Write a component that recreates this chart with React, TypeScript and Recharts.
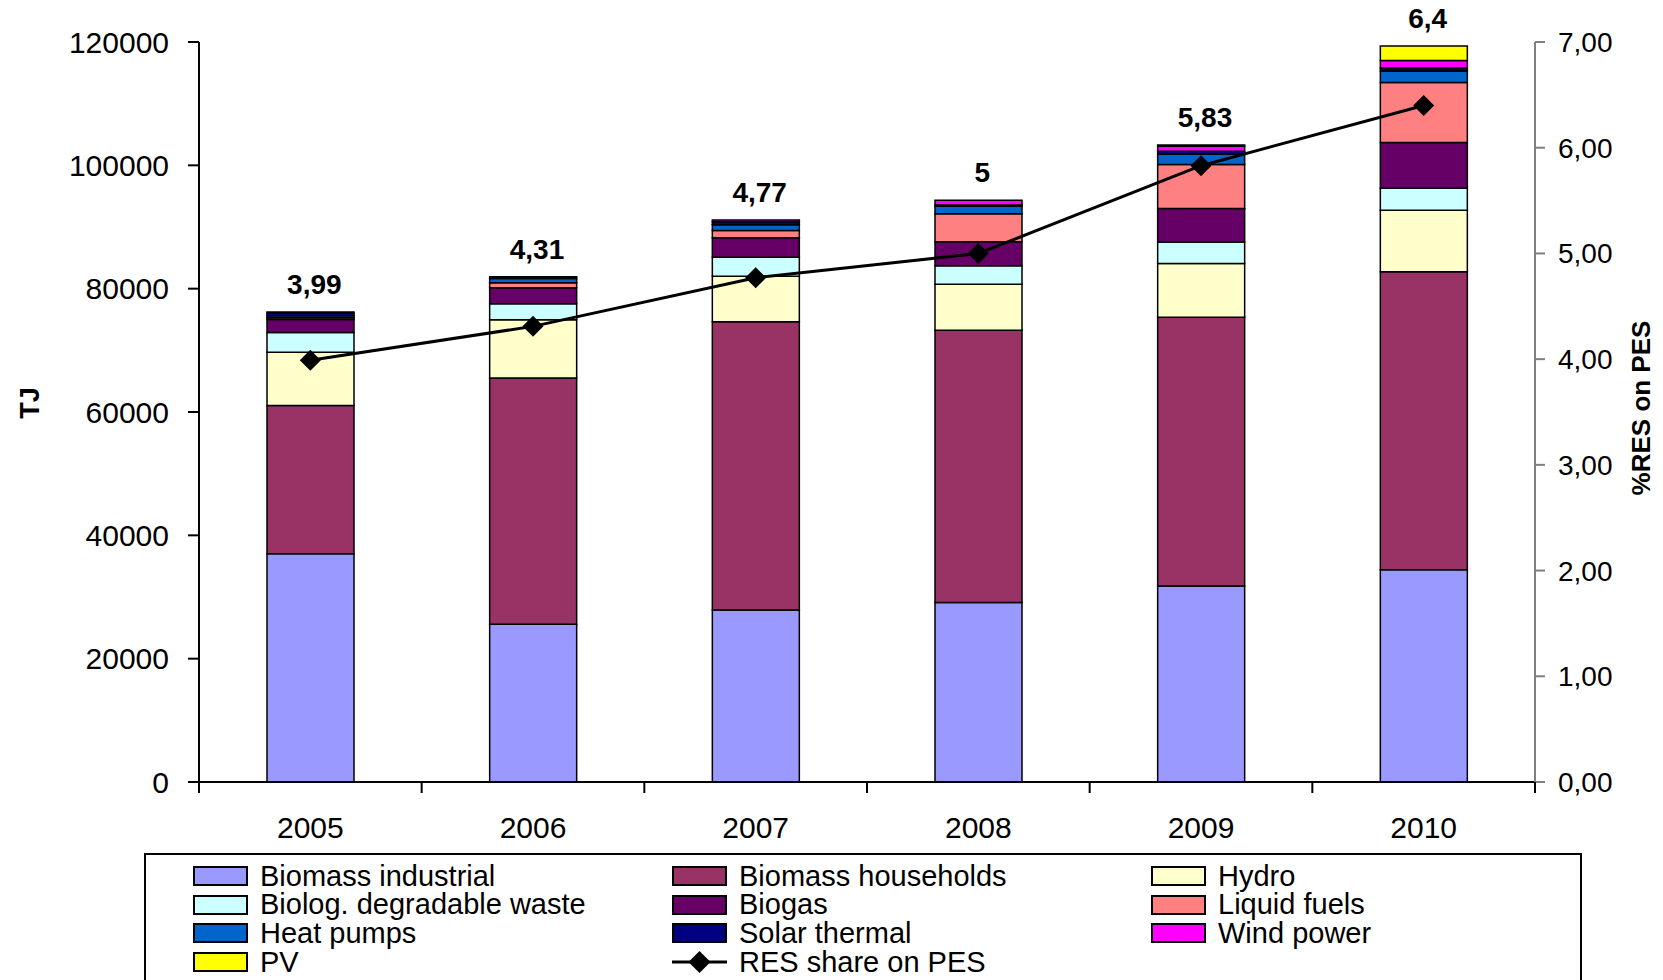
import {
  ComposedChart,
  Bar,
  Line,
  XAxis,
  YAxis,
  LabelList,
  Label,
} from 'recharts'

const years = ['2005', '2006', '2007', '2008', '2009', '2010']

// TJ per source
const biomassIndustrial = [37000, 25600, 27900, 29100, 31800, 34400]
const biomassHouseholds = [24050, 39900, 46750, 44150, 43550, 48350]
const hydro = [8650, 9450, 7350, 7450, 8750, 9950]
const degradableWaste = [3200, 2600, 3100, 3000, 3450, 3600]
const biogas = [2100, 2600, 3150, 3900, 5450, 7400]
const liquidFuels = [300, 800, 1200, 4550, 7150, 9750]
const heatPumps = [300, 700, 900, 1200, 1650, 1850]
const solarThermal = [400, 300, 500, 200, 500, 500]
const windPower = [200, 0, 300, 800, 800, 1200]
const pv = [0, 0, 0, 0, 200, 2350]

// % RES share on primary energy supply
const resShare = [3.99, 4.31, 4.77, 5, 5.83, 6.4]

const leftTicks = [0, 20000, 40000, 60000, 80000, 100000, 120000]
const rightTicks = [0, 1, 2, 3, 4, 5, 6, 7]

const series = [
  { key: 'biomassIndustrial', name: 'Biomass industrial', color: '#9999FF', values: biomassIndustrial },
  { key: 'biomassHouseholds', name: 'Biomass households', color: '#993366', values: biomassHouseholds },
  { key: 'hydro', name: 'Hydro', color: '#FFFFCC', values: hydro },
  { key: 'degradableWaste', name: 'Biolog. degradable waste', color: '#CCFFFF', values: degradableWaste },
  { key: 'biogas', name: 'Biogas', color: '#660066', values: biogas },
  { key: 'liquidFuels', name: 'Liquid fuels', color: '#FF8080', values: liquidFuels },
  { key: 'heatPumps', name: 'Heat pumps', color: '#0066CC', values: heatPumps },
  { key: 'solarThermal', name: 'Solar thermal', color: '#000080', values: solarThermal },
  { key: 'windPower', name: 'Wind power', color: '#FF00FF', values: windPower },
  { key: 'pv', name: 'PV', color: '#FFFF00', values: pv },
]

const data = years.map((year, i) => {
  const row: Record<string, string | number> = { year, share: resShare[i] }
  let total = 0
  series.forEach((s) => {
    row[s.key] = s.values[i]
    total += s.values[i]
  })
  row.total = total
  return row
})

const FONT = '"Liberation Sans", Arial, sans-serif'
const W = 1663
const H = 980
const PLOT_LEFT = 199
const PLOT_RIGHT = 1535
const PLOT_TOP = 42
const PLOT_BOTTOM = 782
const BAND = (PLOT_RIGHT - PLOT_LEFT) / years.length

const comma = (v: number) => String(v).replace('.', ',')

function YearTick({ x, y, payload, index }: any) {
  const half = BAND / 2
  return (
    <g>
      <line x1={x - half} x2={x - half} y1={y} y2={y + 11} stroke="#000" strokeWidth={2} />
      {index === years.length - 1 && (
        <line x1={x + half} x2={x + half} y1={y} y2={y + 11} stroke="#000" strokeWidth={2} />
      )}
      <text x={x} y={y + 56} textAnchor="middle" fontSize={30} fontFamily={FONT} fill="#000">
        {payload.value}
      </text>
    </g>
  )
}

function Diamond({ cx, cy }: any) {
  if (cx == null || cy == null) return null
  const r = 10.5
  return (
    <polygon
      points={`${cx},${cy - r} ${cx + r},${cy} ${cx},${cy + r} ${cx - r},${cy}`}
      fill="#000"
    />
  )
}

// share value written above each stacked bar
function ShareLabel({ x, y, index }: any) {
  return (
    <text
      x={x + 4}
      y={y - 18}
      textAnchor="middle"
      fontSize={28}
      fontWeight="bold"
      fontFamily={FONT}
      fill="#000"
    >
      {comma(resShare[index])}
    </text>
  )
}

function ChartLegend() {
  const cols = [47, 526, 1005]
  const items: { name: string; color?: string; line?: boolean }[] = [
    ...series.map((s) => ({ name: s.name, color: s.color })),
    { name: 'RES share on PES', line: true },
  ]
  return (
    <div
      style={{
        position: 'absolute',
        left: 144,
        top: 853,
        width: 1434,
        height: 160,
        borderTop: '2px solid #000',
        borderLeft: '2px solid #000',
        borderRight: '2px solid #000',
        fontFamily: FONT,
        fontSize: 29,
        color: '#000',
      }}
    >
      {items.map((item, i) => {
        const col = i % 3
        const row = Math.floor(i / 3)
        const cy = 21 + row * 28.7
        return (
          <div
            key={item.name}
            style={{
              position: 'absolute',
              left: cols[col],
              top: cy - 15,
              height: 30,
              display: 'flex',
              alignItems: 'center',
              whiteSpace: 'nowrap',
            }}
          >
            {item.line ? (
              <svg width={55} height={24} style={{ marginRight: 12 }}>
                <line x1={0} x2={55} y1={12} y2={12} stroke="#000" strokeWidth={3} />
                <polygon points="27.5,1 38.5,12 27.5,23 16.5,12" fill="#000" />
              </svg>
            ) : (
              <div
                style={{
                  width: 51,
                  height: 16,
                  background: item.color,
                  border: '2px solid #000',
                  marginRight: 12,
                }}
              />
            )}
            <span>{item.name}</span>
          </div>
        )
      })}
    </div>
  )
}

export default function App() {
  return (
    <div
      style={{
        position: 'absolute',
        left: 0,
        top: 0,
        width: W,
        height: H,
        overflow: 'hidden',
        background: '#fff',
      }}
    >
      <ComposedChart
        width={W}
        height={H}
        data={data}
        margin={{ top: PLOT_TOP, right: 0, bottom: 0, left: 0 }}
      >
        <XAxis
          dataKey="year"
          height={H - PLOT_BOTTOM}
          axisLine={{ stroke: '#000', strokeWidth: 2 }}
          tickLine={false}
          tickSize={0}
          tickMargin={0}
          tick={<YearTick />}
          interval={0}
        />
        <YAxis
          yAxisId="left"
          width={PLOT_LEFT}
          domain={[0, 120000]}
          ticks={leftTicks}
          interval={0}
          axisLine={{ stroke: '#000', strokeWidth: 2 }}
          tickLine={{ stroke: '#000', strokeWidth: 2 }}
          tickSize={11}
          tickMargin={19}
          tick={{ fontSize: 30, fontFamily: FONT, fill: '#000' }}
        >
          <Label
            content={() => (
              <text
                x={30}
                y={403}
                transform="rotate(-90 30 403)"
                textAnchor="middle"
                dominantBaseline="central"
                fontSize={27}
                fontWeight="bold"
                fontFamily={FONT}
                fill="#000"
              >
                TJ
              </text>
            )}
          />
        </YAxis>
        <YAxis
          yAxisId="right"
          orientation="right"
          width={W - PLOT_RIGHT}
          domain={[0, 7]}
          ticks={rightTicks}
          interval={0}
          tickFormatter={(v: number) => v.toFixed(2).replace('.', ',')}
          axisLine={{ stroke: '#808080', strokeWidth: 2 }}
          tickLine={{ stroke: '#808080', strokeWidth: 2 }}
          tickSize={10}
          tickMargin={13}
          tick={{ fontSize: 28, fontFamily: FONT, fill: '#000' }}
        >
          <Label
            content={() => (
              <text
                x={1641}
                y={408}
                transform="rotate(-90 1641 408)"
                textAnchor="middle"
                dominantBaseline="central"
                fontSize={26}
                fontWeight="bold"
                fontFamily={FONT}
                fill="#000"
              >
                %RES on PES
              </text>
            )}
          />
        </YAxis>
        {series.map((s) => (
          <Bar
            key={s.key}
            yAxisId="left"
            dataKey={s.key}
            name={s.name}
            stackId="res"
            fill={s.color}
            stroke="#000"
            strokeWidth={1.5}
            barSize={87}
            isAnimationActive={false}
          />
        ))}
        {/* invisible carrier at the stack tops for the share labels */}
        <Line
          yAxisId="left"
          dataKey="total"
          stroke="none"
          dot={false}
          activeDot={false}
          legendType="none"
          isAnimationActive={false}
        >
          <LabelList content={<ShareLabel />} />
        </Line>
        <Line
          yAxisId="right"
          type="linear"
          dataKey="share"
          name="RES share on PES"
          stroke="#000"
          strokeWidth={3}
          dot={<Diamond />}
          activeDot={false}
          isAnimationActive={false}
        />
      </ComposedChart>
      <ChartLegend />
    </div>
  )
}
